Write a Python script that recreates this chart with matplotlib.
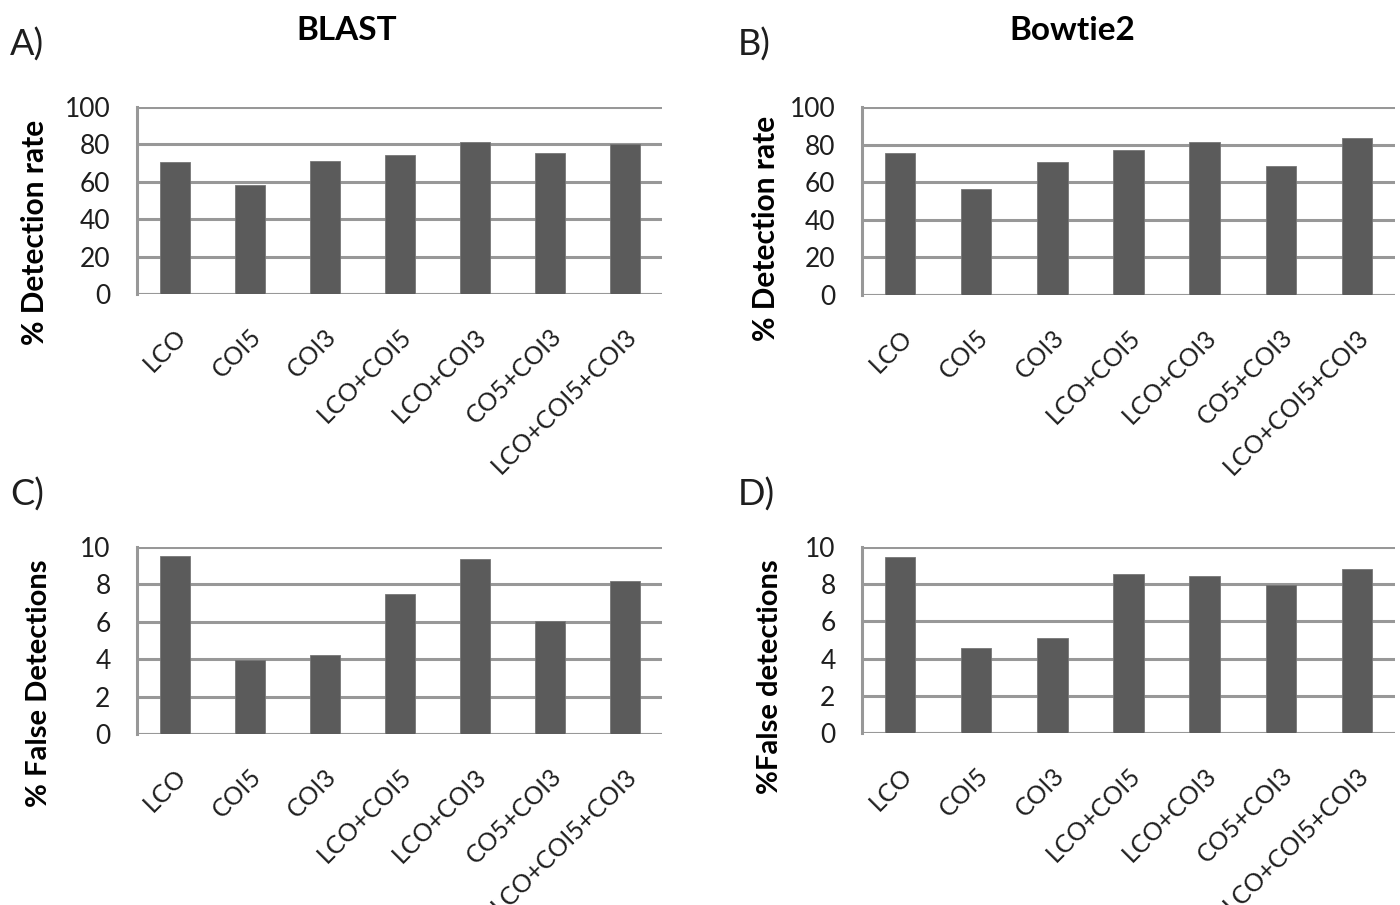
import matplotlib.pyplot as plt
import numpy as np

plt.rcParams['font.family'] = ['Lato', 'DejaVu Sans']

categories = ["LCO", "COI5", "COI3", "LCO+COI5", "LCO+COI3", "CO5+COI3", "LCO+COI5+COI3"]
blast_detect = [70.4, 58.3, 71.2, 74.5, 81.4, 75.5, 80.0]
bowtie_detect = [75.5, 56.2, 70.5, 77.2, 81.4, 68.8, 83.7]
blast_false = [9.5, 3.95, 4.22, 7.5, 9.35, 6.05, 8.2]
bowtie_false = [9.45, 4.55, 5.12, 8.55, 8.45, 7.95, 8.8]

W, H = 1400, 905
fig = plt.figure(figsize=(W / 100, H / 100), dpi=100)

def ax_box(l, r, t, b):
    return [l / W, 1 - b / H, (r - l) / W, (b - t) / H]

grid_col = "#989898"
bar_col = "#5b5b5b"
txt_col = "#1e1e1e"

def panel(box, values, ymax, step):
    ax = fig.add_axes(box)
    x = np.arange(len(categories))
    ax.bar(x, values, width=0.4, color=bar_col, edgecolor="#777777", linewidth=0.6, zorder=3)
    ax.set_xlim(-0.5, len(categories) - 0.5)
    ax.set_ylim(0, ymax)
    ax.set_yticks(np.arange(0, ymax + step / 2, step))
    ax.yaxis.grid(True, color=grid_col, linewidth=2.2, zorder=0)
    ax.set_axisbelow(True)
    for s in ["top", "right", "bottom"]:
        ax.spines[s].set_visible(False)
    ax.spines["left"].set_color(grid_col)
    ax.spines["left"].set_linewidth(2.2)
    ax.axhline(0, color=grid_col, linewidth=2.2, zorder=2)
    ax.tick_params(axis="both", length=0, labelsize=19, labelcolor=txt_col)
    ax.tick_params(axis="y", pad=19)
    ax.set_xticks(x)
    ax.set_xticklabels(categories, rotation=45, ha="right", va="top",
                       rotation_mode="anchor", fontsize=18, color=txt_col)
    ax.tick_params(axis="x", pad=22)
    return ax

panel(ax_box(137, 662, 107, 294), blast_detect, 100, 20)
panel(ax_box(862, 1395, 107, 295), bowtie_detect, 100, 20)
panel(ax_box(137, 662, 547, 734), blast_false, 10, 2)
panel(ax_box(862, 1395, 547, 733), bowtie_false, 10, 2)

fig.text(347 / W, 1 - 30 / H, "BLAST", fontsize=24, fontweight="bold", ha="center", va="center")
fig.text(1072 / W, 1 - 30 / H, "Bowtie2", fontsize=24, fontweight="bold", ha="center", va="center")

for lbl, px, py in [("A)", 10, 45), ("B)", 738, 45), ("C)", 10, 495), ("D)", 738, 495)]:
    fig.text(px / W, 1 - py / H, lbl, fontsize=26, ha="left", va="center", color=txt_col)

fig.text(35 / W, 1 - 232 / H, "% Detection rate", fontsize=21.5, fontweight="bold",
         rotation=90, ha="center", va="center")
fig.text(766 / W, 1 - 228 / H, "% Detection rate", fontsize=21.5, fontweight="bold",
         rotation=90, ha="center", va="center")
fig.text(39 / W, 1 - 683 / H, "% False Detections", fontsize=21, fontweight="bold",
         rotation=90, ha="center", va="center")
fig.text(770 / W, 1 - 677 / H, "%False detections", fontsize=21, fontweight="bold",
         rotation=90, ha="center", va="center")

fig.savefig("out.png", dpi=100, facecolor="white")
